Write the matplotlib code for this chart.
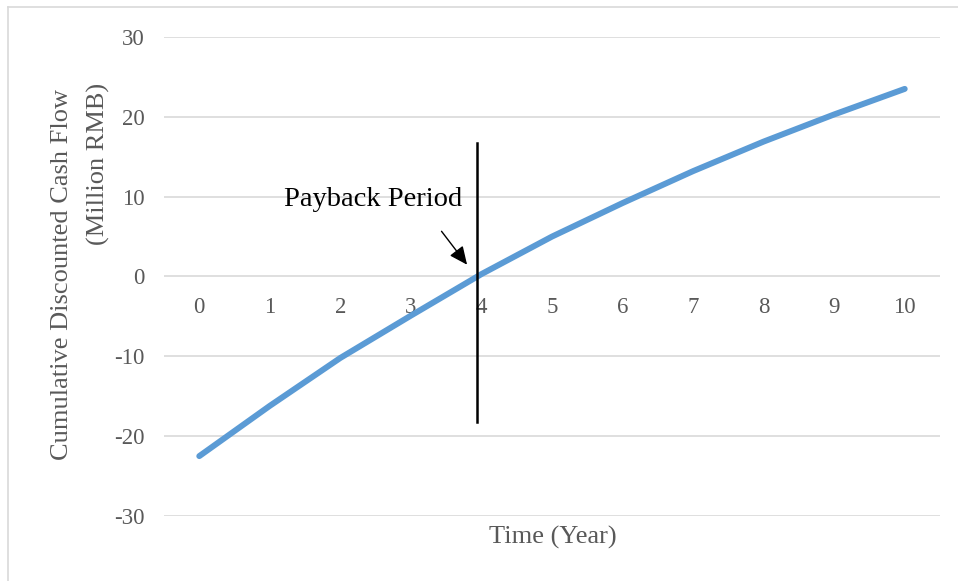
import matplotlib
matplotlib.use("Agg")
import matplotlib.pyplot as plt
from matplotlib.lines import Line2D

# cumulative discounted cash flow per year (million RMB)
years = [0, 1, 2, 3, 4, 5, 6, 7, 8, 9, 10]
cum_cash = [-22.5, -16.2, -10.2, -4.9, 0.3, 5.0, 9.2, 13.2, 16.9, 20.3, 23.5]
y_ticks = [-30, -20, -10, 0, 10, 20, 30]

# payback marker: where the curve crosses zero, and the extent of the marker line
payback_year = 3.94
marker_top = 16.7
marker_bottom = -18.2

line_color = '#5B9BD5'
grid_color = '#D9D9D9'
text_gray = '#595959'

plt.rcParams['font.family'] = ['Liberation Serif', 'DejaVu Serif']

fig = plt.figure(figsize=(9.58, 5.81), dpi=100)
fig.patch.set_facecolor('white')
ax = fig.add_axes([0.1712, 0.1119, 0.81, 0.8244])

ax.set_xlim(-0.5, 10.5)
ax.set_ylim(-30, 30)

# horizontal gridlines only
ax.set_yticks(y_ticks)
ax.set_yticklabels([str(v) for v in y_ticks])
ax.grid(True, axis='y', color=grid_color, linewidth=1.2)
ax.set_axisbelow(True)
for s in ax.spines.values():
    s.set_visible(False)

# category labels sit just under the zero line
ax.spines['bottom'].set_position(('data', 0))
ax.set_xticks(years)
ax.set_xticklabels([str(v) for v in years])
ax.tick_params(axis='x', length=0, pad=15, labelsize=16.5, labelcolor=text_gray)
ax.tick_params(axis='y', length=0, pad=14, labelsize=16.5, labelcolor=text_gray)

ax.plot(years, cum_cash, color=line_color, linewidth=4.3,
        solid_capstyle='round', solid_joinstyle='round', zorder=3)

ax.plot([payback_year, payback_year], [marker_bottom, marker_top],
        color='black', linewidth=1.8, zorder=4)

ax.annotate('', xy=(3.82, 1.2), xytext=(3.41, 5.94),
            arrowprops=dict(arrowstyle='-|>,head_length=1.1,head_width=0.5',
                            color='black', linewidth=1.0), zorder=5)
ax.text(2.47, 9.7, 'Payback Period', fontsize=20.5, color='black',
        ha='center', va='center', zorder=5)

ax.set_xlabel('Time (Year)', fontsize=19, color=text_gray)
ax.xaxis.label.set_va('center')
ax.xaxis.set_label_coords(0.5006, -0.044)

# two-line y title drawn as separate rotated lines
fig.text(62 / 958, 1 - 275 / 581, 'Cumulative Discounted Cash Flow', rotation=90,
         fontsize=19, color=text_gray, ha='center', va='center')
fig.text(98 / 958, 1 - 164 / 581, '(Million RMB)', rotation=90,
         fontsize=19, color=text_gray, ha='center', va='center')

# chart-area border (top and left edges fall inside the canvas)
fig.add_artist(Line2D([8 / 958, 8 / 958], [0, 1 - 7 / 581], transform=fig.transFigure,
                      color=grid_color, linewidth=1.2))
fig.add_artist(Line2D([8 / 958, 1], [1 - 7 / 581, 1 - 7 / 581], transform=fig.transFigure,
                      color=grid_color, linewidth=1.2))

fig.savefig('out.png', dpi=100)
